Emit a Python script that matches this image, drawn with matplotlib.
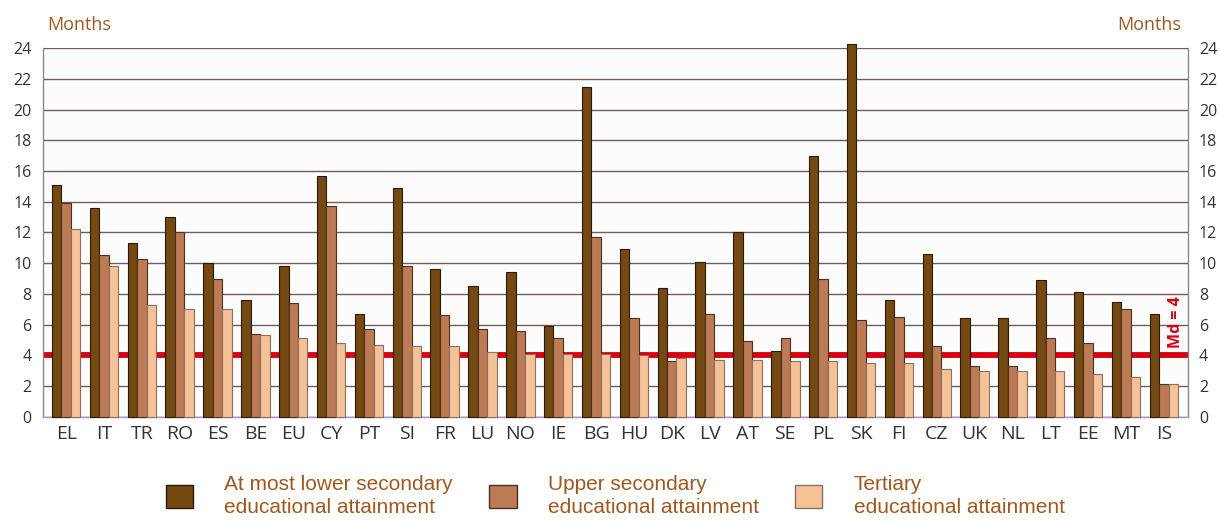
import numpy as np
import matplotlib
matplotlib.use('Agg')
from matplotlib import pyplot as plt
from matplotlib.patches import Patch

countries = ['EL', 'IT', 'TR', 'RO', 'ES', 'BE', 'EU', 'CY', 'PT', 'SI',
             'FR', 'LU', 'NO', 'IE', 'BG', 'HU', 'DK', 'LV', 'AT', 'SE',
             'PL', 'SK', 'FI', 'CZ', 'UK', 'NL', 'LT', 'EE', 'MT', 'IS']
lower_sec = [15.1, 13.6, 11.3, 13.0, 10.0, 7.6, 9.8, 15.7, 6.7, 14.9,
             9.6, 8.5, 9.4, 5.9, 21.5, 10.9, 8.4, 10.1, 12.0, 4.3,
             17.0, 24.3, 7.6, 10.6, 6.4, 6.4, 8.9, 8.1, 7.5, 6.7]
upper_sec = [13.9, 10.5, 10.3, 12.0, 9.0, 5.4, 7.4, 13.7, 5.7, 9.8,
             6.6, 5.7, 5.6, 5.1, 11.7, 6.4, 3.6, 6.7, 4.9, 5.1,
             9.0, 6.3, 6.5, 4.6, 3.3, 3.3, 5.1, 4.8, 7.0, 2.1]
tertiary = [12.2, 9.8, 7.3, 7.0, 7.0, 5.3, 5.1, 4.8, 4.7, 4.6,
            4.6, 4.2, 4.1, 4.1, 4.1, 4.0, 3.8, 3.7, 3.7, 3.6,
            3.6, 3.5, 3.5, 3.1, 3.0, 3.0, 3.0, 2.8, 2.6, 2.1]
median = 4
series_labels = ['At most lower secondary\neducational attainment',
                 'Upper secondary\neducational attainment',
                 'Tertiary\neducational attainment']
colors = ['#744914', '#bd7b55', '#f5c196']
edges = ['#2a1a08', '#4a3020', '#8a7060']

label_col = '#333333'
brown_txt = '#a0581e'

fig = plt.figure(figsize=(12.19, 5.2), dpi=100)
ax = fig.add_axes([0.035, 0.1987, 0.9393, 0.7085])
ax.set_facecolor('#fcfcfc')

x = np.arange(len(countries))
w = 0.25
for k, vals in enumerate([lower_sec, upper_sec, tertiary]):
    ax.bar(x + (k - 1) * w, vals, width=w, color=colors[k],
           edgecolor=edges[k], linewidth=0.8, zorder=3, clip_on=False)

# median line and its label at the right end
ax.axhline(median, color='#d7000f', linewidth=4.2, zorder=2)
ax.text(29.31, median + 0.45, 'Md = %d' % median,
        rotation=90, color='#d7000f', fontsize=11.5, fontweight='bold',
        ha='center', va='bottom', family='Open Sans', zorder=4)

ax.set_xlim(-0.62, len(countries) - 0.37)
ax.set_ylim(0, 24)
ax.set_yticks(range(0, 25, 2))
ax.yaxis.grid(True, color='#6e5e55', linewidth=1.0, zorder=1)
ax.set_axisbelow(True)
ax.set_xticks(x)
ax.set_xticklabels(countries, fontsize=14, color=label_col, family='Open Sans')
ax.tick_params(axis='x', length=0, pad=6)
ax.tick_params(axis='y', length=0, pad=8, labelsize=11.5, labelcolor=label_col,
               right=True, labelright=True)
for lab in ax.get_yticklabels():
    lab.set_family('Open Sans')

for s in ['left', 'right']:
    ax.spines[s].set_color('#8a8a8a')
    ax.spines[s].set_linewidth(1.0)
ax.spines['top'].set_visible(False)
ax.spines['bottom'].set_color('#9a9ae0')
ax.spines['bottom'].set_linewidth(1.0)

fig.text(47 / 1219, 1 - 25 / 520, 'Months', color=brown_txt, fontsize=13,
         family='Open Sans', ha='left', va='center')
fig.text(1181 / 1219, 1 - 25 / 520, 'Months', color=brown_txt, fontsize=13,
         family='Open Sans', ha='right', va='center')

handles = [Patch(facecolor=colors[k], edgecolor=edges[k]) for k in range(3)]
leg = fig.legend(handles, series_labels, loc='center left', ncol=3,
                 bbox_to_anchor=(166 / 1219, 1 - 496 / 520), frameon=False,
                 borderpad=0, borderaxespad=0,
                 handlelength=1.3, handleheight=1.3, handletextpad=1.5,
                 columnspacing=1.75,
                 prop={'family': 'Liberation Sans', 'size': 15},
                 labelcolor=brown_txt)
for t in leg.get_texts():
    t.set_linespacing(1.3)

plt.savefig('out.png', dpi=100)
